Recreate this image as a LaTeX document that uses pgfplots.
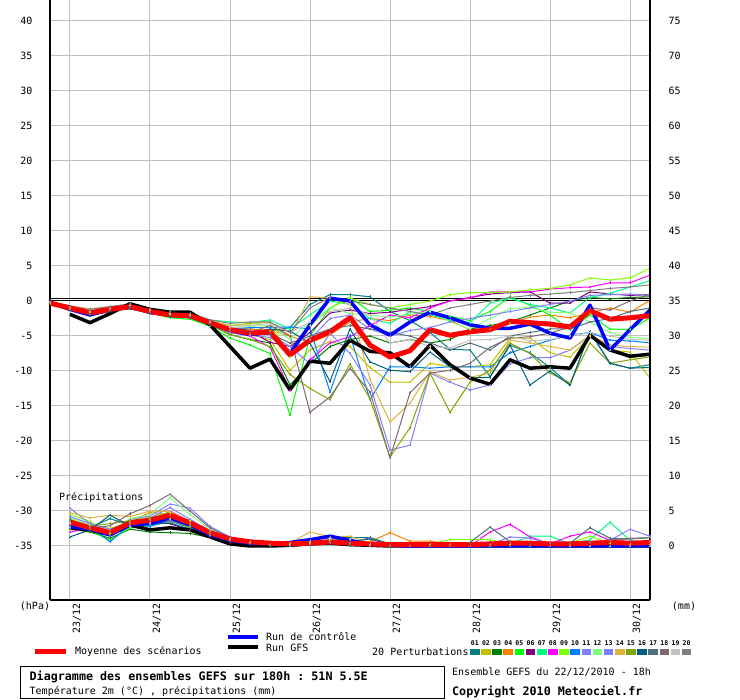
\documentclass[border=0pt]{standalone}
\usepackage{fontspec}
\setmonofont{DejaVu Sans Mono}
\usepackage{pgfplots}
\usepackage{pgfplotstable}
\pgfplotsset{compat=1.18}
\definecolor{c01}{HTML}{008080}
\definecolor{c02}{HTML}{C0C000}
\definecolor{c03}{HTML}{008000}
\definecolor{c04}{HTML}{FF8000}
\definecolor{c05}{HTML}{00FF00}
\definecolor{c06}{HTML}{800080}
\definecolor{c07}{HTML}{00FF80}
\definecolor{c08}{HTML}{FF00FF}
\definecolor{c09}{HTML}{80FF00}
\definecolor{c10}{HTML}{0080FF}
\definecolor{c11}{HTML}{8080FF}
\definecolor{c12}{HTML}{80FF80}
\definecolor{c13}{HTML}{8080F8}
\definecolor{c14}{HTML}{E0B040}
\definecolor{c15}{HTML}{80A800}
\definecolor{c16}{HTML}{005F80}
\definecolor{c17}{HTML}{4F6F7F}
\definecolor{c18}{HTML}{806870}
\definecolor{c19}{HTML}{C0C0C0}
\definecolor{c20}{HTML}{808080}
\definecolor{gridc}{HTML}{C0C0C0}
\tikzset{mem/.style={line width=1pt, mark=+, mark size=1.3pt, mark options={solid,line width=0.6pt}}}

\pgfplotstableread{
h mean ctl gfs p01 p02 p03 p04 p05 p06 p07 p08 p09 p10 p11 p12 p13 p14 p15 p16 p17 p18 p19 p20
0 -0.3 -0.2 nan -0.2 -0.4 -0.3 -0.2 -0.3 -0.3 -0.2 -0.3 -0.2 -0.4 -0.3 -0.2 -0.4 -0.1 -0.4 -0.3 -0.3 -0.2 -0.2 -0.1
6 -1.0 -1.2 -1.9 -1.2 -1.1 -1.3 -0.9 -1.1 -1.0 -0.8 -1.1 -1.0 -1.2 -1.0 -0.9 -1.3 -0.7 -1.2 -1.3 -1.1 -0.9 -0.9 -0.8
12 -1.7 -2.0 -3.1 -2.0 -1.6 -1.9 -1.5 -1.8 -1.6 -1.4 -1.8 -1.6 -1.9 -1.7 -1.5 -2.0 -1.1 -1.8 -2.1 -1.8 -1.4 -1.5 -1.2
18 -1.2 -1.2 -1.8 -1.4 -1.0 -1.3 -1.0 -1.4 -1.2 -0.9 -1.3 -1.1 -1.3 -1.1 -1.0 -1.4 -0.8 -1.3 -1.5 -1.2 -0.9 -1.0 -0.8
24 -0.8 -0.9 -0.4 -1.0 -0.7 -1.0 -0.7 -1.1 -0.9 -0.6 -0.9 -0.7 -0.9 -0.8 -0.6 -1.0 -0.5 -1.0 -1.1 -0.8 -0.5 -0.6 -0.4
30 -1.5 -1.6 -1.2 -1.6 -1.6 -1.8 -1.4 -1.7 -1.5 -1.2 -1.8 -1.4 -1.6 -1.5 -1.3 -1.7 -1.2 -1.6 -1.7 -1.6 -1.2 -1.3 -1.1
36 -2.0 -2.0 -1.6 -2.1 -1.8 -2.2 -1.9 -2.4 -2.0 -1.7 -2.1 -1.9 -2.1 -2.0 -1.8 -2.2 -1.6 -2.1 -2.2 -2.0 -1.6 -1.8 -1.5
42 -2.1 -2.2 -1.6 -2.3 -2.1 -2.4 -2.2 -2.6 -2.2 -1.8 -2.1 -2.0 -2.3 -2.1 -1.9 -2.3 -1.8 -2.3 -2.4 -2.2 -1.9 -2.0 -1.7
48 -3.1 -3.2 -3.4 -3.3 -3.2 -3.4 -3.0 -3.6 -3.2 -2.7 -3.2 -3.0 -3.3 -3.1 -2.9 -3.3 -2.8 -3.4 -3.4 -3.2 -2.9 -3.0 -2.7
54 -4.1 -4.2 -6.5 -4.2 -4.5 -4.8 -3.8 -5.3 -4.0 -3.0 -4.4 -3.5 -4.0 -4.2 -3.5 -4.6 -3.5 -4.8 -4.3 -4.3 -4.0 -3.8 -3.2
60 -4.6 -4.8 -9.6 -4.0 -4.8 -5.5 -4.0 -6.3 -4.3 -3.1 -5.0 -3.3 -3.8 -4.5 -3.6 -4.9 -3.2 -5.5 -4.6 -4.5 -4.5 -3.5 -3.0
66 -4.4 -4.5 -8.3 -4.3 -5.5 -6.0 -4.2 -7.5 -5.9 -2.7 -6.6 -3.0 -3.8 -4.8 -3.5 -5.2 -3.0 -6.5 -4.0 -4.7 -3.5 -3.2 -3.0
72 -7.7 -7.5 -12.7 -3.8 -9.9 -12.0 -5.0 -16.3 -6.5 -4.0 -12.7 -8.0 -3.7 -6.5 -5.5 -7.0 -5.0 -10.5 -4.3 -6.0 -5.0 -4.5 -4.5
78 -5.6 -3.4 -8.6 -0.5 -7.0 -9.0 -6.0 -5.0 -4.5 -2.0 -8.4 -3.5 -4.0 -9.0 -3.0 -5.5 0.6 -12.5 -6.0 -5.0 -15.9 -3.0 -1.0
84 -4.4 0.4 -8.9 0.9 -5.8 -6.5 -4.8 -1.0 -1.7 0.0 -6.0 -1.0 -13.0 -4.6 -1.0 -2.5 0.4 -14.1 -11.5 -4.0 -13.7 -1.5 0.5
90 -2.4 0.0 -5.6 0.9 -6.5 -5.5 -3.0 0.5 -1.3 -0.5 -5.1 0.4 -4.9 -7.5 -1.8 -2.0 -0.5 -9.0 -4.0 -3.5 -9.6 -1.0 0.0
96 -6.3 -3.4 -7.2 0.6 -9.5 -5.0 -2.5 -1.5 -1.8 -2.5 -3.5 -0.5 -14.1 -12.0 -2.0 -4.0 -11.2 -14.0 -8.7 -4.0 -13.0 -2.0 -0.5
102 -8.0 -4.9 -7.4 -1.5 -11.6 -6.0 -2.8 -1.3 -1.6 -3.2 -2.0 -1.0 -9.4 -21.3 -2.3 -5.0 -17.3 -22.3 -9.9 -4.5 -22.4 -6.0 -1.0
108 -7.1 -3.0 -9.4 -2.8 -11.6 -5.5 -2.0 -1.0 -1.2 -1.5 -2.4 -0.5 -9.4 -20.6 -1.9 -4.2 -14.6 -18.1 -10.1 -5.0 -13.1 -5.5 -1.5
114 -4.1 -1.6 -6.3 -4.5 -8.9 -6.0 -2.2 -1.5 -0.8 -2.0 -1.0 0.0 -9.6 -10.3 -1.5 -3.8 -10.1 -10.3 -7.3 -6.0 -10.3 -6.5 -2.0
120 -4.9 -2.4 -9.1 -6.9 -9.4 -5.5 -2.8 -2.2 0.0 -2.7 0.0 0.9 -9.4 -11.6 -3.0 -3.0 -11.3 -15.9 -9.4 -7.0 -9.9 -6.7 -1.0
126 -4.4 -3.4 -11.0 -7.0 -9.4 -4.0 -4.1 -2.8 0.5 -3.1 0.4 1.2 -9.4 -12.7 -4.0 -2.5 -10.9 -11.6 -11.0 -6.0 -8.9 -5.6 -0.5
132 -4.1 -3.9 -11.9 -10.8 -9.1 -3.5 -4.0 -1.5 1.0 -0.3 1.3 1.2 -9.4 -12.0 -2.5 -2.0 -10.3 -9.9 -10.9 -7.0 -6.6 -5.5 0.0
138 -2.9 -3.9 -8.4 -6.3 -5.3 -3.0 -3.2 0.6 1.2 0.4 1.3 1.3 -7.4 -9.0 -1.1 -1.5 -5.6 -6.0 -6.3 -5.0 -5.3 -5.0 0.5
144 -3.1 -3.3 -9.6 -7.4 -5.3 -2.0 -2.3 -0.6 1.3 -0.5 1.3 1.6 -6.5 -8.1 -0.9 -1.0 -6.0 -7.5 -12.0 -4.5 -5.1 -5.7 0.8
150 -3.3 -4.6 -9.4 -9.5 -7.4 -1.0 -2.0 -2.0 -0.3 -1.0 1.7 1.8 -5.6 -8.1 -1.6 -0.5 -6.5 -10.3 -10.0 -4.0 -4.6 -5.5 1.0
156 -3.7 -5.3 -9.6 -12.0 -8.0 0.0 -2.4 -4.1 -0.3 -1.7 1.9 2.3 -4.9 -7.0 -1.7 0.0 -7.0 -11.7 -12.0 -4.0 -3.7 -5.0 1.2
162 -1.4 -0.6 -4.9 -4.4 -5.1 0.5 -1.7 -2.0 1.3 0.5 2.0 3.3 -4.5 -5.0 -3.0 0.8 -4.9 -6.0 -4.4 -3.0 -1.0 -4.5 1.5
168 -2.6 -7.0 -7.0 -8.9 -7.0 0.3 -1.0 -4.0 1.0 1.1 2.6 3.0 -5.6 -6.5 -4.5 0.9 -6.3 -8.9 -8.9 -2.5 -1.3 -5.0 1.8
174 -2.4 -4.1 -7.9 -9.6 -7.3 0.5 -1.6 -4.1 0.8 2.0 2.6 3.3 -5.7 -6.8 -5.2 1.0 -6.5 -8.4 -9.6 -1.5 0.0 -5.5 2.0
180 -2.1 -1.3 -7.6 -9.1 -11.0 0.6 0.1 -2.4 0.9 2.9 3.7 4.7 -6.0 -7.0 -5.4 0.8 -6.6 -8.0 -9.5 -1.0 1.0 -5.6 2.3
}\temps

\pgfplotstableread{
h mean ctl gfs p01 p02 p03 p04 p05 p06 p07 p08 p09 p10 p11 p12 p13 p14 p15 p16 p17 p18 p19 p20
6 3.4 2.8 2.6 3.3 3.8 2.4 3.5 2.9 3.0 3.6 2.0 4.5 3.3 5.4 4.0 4.2 4.8 3.5 1.3 3.1 3.8 3.2 2.5
12 2.6 2.4 2.3 2.6 3.0 2.0 3.0 2.2 2.4 2.8 2.5 3.5 2.8 3.2 3.0 3.2 4.0 2.8 2.3 2.4 2.5 2.7 2.6
18 1.9 1.6 1.6 3.9 2.5 1.1 2.2 0.8 1.8 1.6 1.5 1.8 0.6 2.0 2.0 2.4 4.4 3.2 4.4 1.5 2.9 2.0 2.0
24 3.3 3.0 3.0 3.0 3.5 2.4 3.5 2.6 2.8 3.1 3.3 3.6 3.0 3.8 3.9 3.4 4.2 3.6 2.9 3.3 4.6 2.8 3.3
30 3.7 3.2 2.3 3.3 3.8 2.0 4.8 3.0 3.5 3.6 3.4 4.2 2.8 4.3 4.5 4.0 5.0 3.9 3.1 3.6 5.8 3.2 3.6
36 4.4 4.0 2.6 3.6 4.5 1.9 4.5 3.5 3.2 4.0 5.0 4.8 3.6 6.0 6.9 5.5 4.9 3.8 3.3 4.0 7.4 3.8 3.5
42 3.3 3.0 2.3 2.8 3.2 1.8 3.2 2.8 2.2 3.0 3.5 3.6 2.6 5.4 4.5 3.8 3.5 2.6 2.4 3.0 5.0 2.9 3.0
48 1.9 1.6 1.3 1.6 1.8 1.2 2.0 1.5 1.2 1.7 2.0 2.0 1.4 2.8 2.4 2.2 2.0 1.5 1.4 1.8 2.6 1.7 1.6
54 1.0 0.8 0.3 0.8 0.9 0.6 1.0 0.7 0.5 0.8 1.0 1.0 0.8 1.3 1.2 1.1 1.0 0.7 0.7 0.8 1.2 0.9 0.8
60 0.6 0.4 0.0 0.4 0.4 0.2 0.5 0.3 0.2 0.3 0.5 0.4 0.3 0.6 0.5 0.5 0.5 0.3 0.3 0.4 0.6 0.5 0.4
66 0.4 0.3 0.0 0.2 0.2 0.1 0.2 0.1 0.1 0.2 0.2 0.3 0.2 0.3 0.3 0.3 0.2 0.1 0.2 0.2 0.2 0.2 0.2
72 0.3 0.5 0.1 0.3 0.1 0.1 0.2 0.1 0.0 0.2 0.1 0.1 0.0 0.2 0.2 0.1 0.4 0.1 0.1 0.1 0.1 0.1 0.1
78 0.4 0.9 0.3 0.8 0.3 0.2 0.4 0.4 0.2 0.3 0.3 0.5 0.2 0.6 0.5 0.4 2.0 0.3 0.4 0.4 0.3 0.4 0.3
84 0.6 1.4 0.4 1.2 0.5 0.3 0.5 0.6 0.3 0.5 0.5 0.8 0.4 0.9 0.8 0.6 1.3 0.5 0.6 0.7 0.5 0.9 0.6
90 0.4 0.8 0.2 1.2 0.3 0.1 0.4 0.4 0.2 0.3 0.3 0.4 0.2 0.6 0.5 0.5 1.4 0.3 0.6 0.4 0.3 0.9 0.4
96 0.3 0.2 0.1 1.2 0.1 0.0 0.6 0.1 0.0 0.1 0.1 0.1 0.0 0.2 0.1 0.1 0.3 0.0 1.0 1.2 0.0 0.3 0.1
102 0.2 0.1 0.0 0.3 0 0 1.9 0 0 0 0 0 0 0 0 0 0 0 0.2 0.2 0 0 0
108 0.2 0 0 0 0 0 0.7 0 0 0 0 0 0 0 0 0 0 0 0 0 0 0 0
114 0.2 0 0 0 0 0 0.7 0 0 0 0 0.3 0 0 0 0 0 0 0 0 0 0 0
120 0.2 0 0 0 0 0 0.3 0 0 0 0 0.9 0 0 0 0 0 0 0 0 0 0 0
126 0.2 0 0 0 0 0 0 0 0.2 0 0 0.9 0 0 0 0 0 0 0 0.5 0 0 0
132 0.3 0 0 0 0 0 0 0 0.5 0 2.0 0.9 0 0.2 0 0 0 0 0 2.7 0 0 0
138 0.4 0 0 0 0 0 0 0 0.3 0.3 3.1 0.3 0 1.3 0 0 0 0 0 0.6 0 0 0
144 0.4 0 0 0 0 0.2 0 0 0 1.4 1.3 0 0 1.1 0 0 0 0 0 0.2 0 0 0
150 0.3 0 0 0 0 0 0 0 0 1.4 0.3 0 0 0.4 0 0 0 0 0 0 0 0 0
156 0.3 0 0 0 0 0 0 0 0.2 0.3 1.4 0.4 0 0.2 0 0 0 0 0 0.4 0 0 0.2
162 0.4 0 0 0 0.2 0 0 0 0.3 0.9 2.0 1.4 0 0.5 0 0 0 0 0 2.6 0.5 0 0.5
168 0.5 0 0 0 0 0.3 0 0 0 3.4 0.8 0.4 0 0.8 0 0 0 0 0 1.1 0.9 0 0.8
174 0.4 0 0 0 0 0 0.3 0 0 0.8 0.6 0.2 0 2.4 0 0 0 0 0 1.0 1.1 0 1.0
180 0.5 0 0 0 0 0 0.6 0 0 0.3 0.5 0.3 0 1.4 0 0 0 0 0 1.2 1.2 0 1.2
}\precip

\begin{document}
\begin{tikzpicture}[x=1pt,y=1pt,font=\ttfamily\fontsize{10}{12}\selectfont]
\useasboundingbox (0,0) rectangle (740,700);
\begin{axis}[
  at={(50pt,100pt)}, anchor=south west, scale only axis,
  width=600pt, height=600pt,
  xmin=0, xmax=180, ymin=-42.714, ymax=43,
  axis x line*=bottom, axis y line*=left,
  axis line style={-, line width=1.3pt, black},
  xtick={6,30,54,78,102,126,150,174},
  xticklabels={23/12,24/12,25/12,26/12,27/12,28/12,29/12,30/12},
  xticklabel style={xshift=7pt, rotate=90, anchor=east, font=\ttfamily\fontsize{10}{12}\selectfont},
  ytick={-35,-30,-25,-20,-15,-10,-5,0,5,10,15,20,25,30,35,40},
  yticklabels={-35,-30,-25,-20,-15,-10,-5,0,5,10,15,20,25,30,35,40},
  yticklabel style={xshift=-14pt, font=\ttfamily\fontsize{10}{12}\selectfont},
  major tick length=0pt,
  grid=major, major grid style={draw=gridc, line width=1pt},
]
\addplot[black, line width=1pt, forget plot] coordinates {(0,0) (180,0)};
\addplot[black, line width=1pt, forget plot] coordinates {(0,0.35) (180,0.35)};
\pgfplotsinvokeforeach{01,02,03,04,05,06,07,08,09,10,11,12,13,14,15,16,17,18,19,20}{
  \addplot[mem, color=c#1] table[x=h, y=p#1] {\temps};
}
\addplot[black, line width=3.5pt, line join=round] table[x=h, y=gfs] {\temps};
\addplot[blue, line width=3.5pt, line join=round] table[x=h, y=ctl] {\temps};
\addplot[red, line width=5pt, line join=round] table[x=h, y=mean] {\temps};
\end{axis}

\begin{axis}[
  at={(50pt,100pt)}, anchor=south west, scale only axis,
  width=600pt, height=600pt,
  xmin=0, xmax=180, ymin=-7.714, ymax=78,
  axis x line=none, axis y line*=right,
  axis line style={-, line width=1.3pt, black},
  ytick={0,5,10,15,20,25,30,35,40,45,50,55,60,65,70,75},
  yticklabels={0,5,10,15,20,25,30,35,40,45,50,55,60,65,70,75},
  yticklabel style={xshift=15pt, font=\ttfamily\fontsize{10}{12}\selectfont},
  major tick length=0pt,
]
\pgfplotsinvokeforeach{01,02,03,04,05,06,07,08,09,10,11,12,13,14,15,16,17,18,19,20}{
  \addplot[mem, color=c#1] table[x=h, y=p#1] {\precip};
}
\addplot[black, line width=3.5pt, line join=round] table[x=h, y=gfs] {\precip};
\addplot[blue, line width=3.5pt, line join=round] table[x=h, y=ctl] {\precip};
\addplot[red, line width=5pt, line join=round] table[x=h, y=mean] {\precip};
\end{axis}

% labels and legend
\node[anchor=west, inner sep=0] at (59,202) {Précipitations};
\node[inner sep=0] at (35,93.5) {(hPa)};
\node[inner sep=0] at (684,93.5) {(mm)};
\draw[red, line width=4.5pt] (35,48.5) -- (66,48.5);
\node[anchor=west, inner sep=0] at (75,48) {Moyenne des scénarios};
\draw[blue, line width=4pt] (228,63) -- (258,63);
\node[anchor=west, inner sep=0] at (266,63) {Run de contrôle};
\draw[black, line width=4pt] (228,53) -- (258,53);
\node[anchor=west, inner sep=0] at (266,52.5) {Run GFS};
\node[anchor=west, inner sep=0] at (372,48) {20 Perturbations};
\foreach \i/\c in {1/c01,2/c02,3/c03,4/c04,5/c05,6/c06,7/c07,8/c08,9/c09,10/c10,11/c11,12/c12,13/c13,14/c14,15/c15,16/c16,17/c17,18/c18,19/c19,20/c20}{
  \fill[\c] ({470+(\i-1)*11.15},44.5) rectangle ++(9.6,6);
  \node[inner sep=0, font=\ttfamily\bfseries\fontsize{6.5}{7}\selectfont] at ({474.8+(\i-1)*11.15},57) {\ifnum\i<10 0\fi\i};
}
\draw[black, line width=1pt] (20,1) rectangle (444,33);
\node[anchor=west, inner sep=0, font=\ttfamily\bfseries\fontsize{11.7}{13}\selectfont] at (29.5,23) {Diagramme des ensembles GEFS sur 180h : 51N 5.5E};
\node[anchor=west, inner sep=0] at (29.5,8.5) {Température 2m (°C) , précipitations (mm)};
\node[anchor=west, inner sep=0] at (452,28) {Ensemble GEFS du 22/12/2010 - 18h};
\node[anchor=west, inner sep=0, font=\ttfamily\bfseries\fontsize{11.7}{13}\selectfont] at (452,8) {Copyright 2010 Meteociel.fr};
\end{tikzpicture}
\end{document}
